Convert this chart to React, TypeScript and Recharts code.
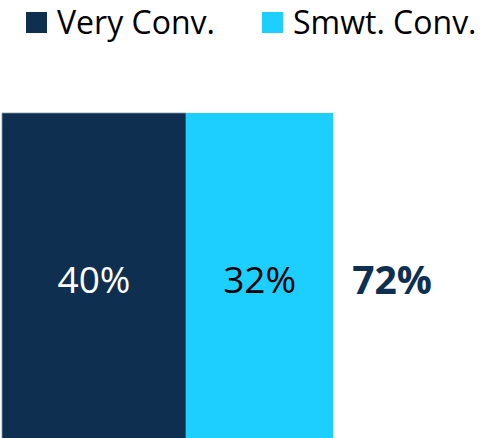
import { BarChart, Bar, XAxis, YAxis, LabelList } from 'recharts';

const categories = [''];
const veryConv = [40];
const smwtConv = [32];
const seriesNames = ['Very Conv.', 'Smwt. Conv.'];

const NAVY = '#0e2f4f';
const CYAN = '#1dcfff';
const COLORS = [NAVY, CYAN];
const FONT = '"Open Sans", "Liberation Sans", sans-serif';

const data = categories.map((name, i) => ({
  name,
  very: veryConv[i],
  smwt: smwtConv[i],
  total: veryConv[i] + smwtConv[i],
}));

// legend drawn in HTML so it does not push the plot area down
function TopLegend() {
  const lefts = [26, 262];
  return (
    <div style={{ position: 'absolute', top: 0, left: 0, width: 496, height: 42, fontFamily: FONT, fontSize: 32, color: '#000' }}>
      {seriesNames.map((n, i) => (
        <div key={n} style={{ position: 'absolute', left: lefts[i], top: 1, display: 'flex', alignItems: 'center', whiteSpace: 'nowrap', height: 42 }}>
          <span style={{ display: 'inline-block', width: 21, height: 21, background: COLORS[i], marginRight: 10 }} />
          <span style={{ lineHeight: '42px' }}>{n}</span>
        </div>
      ))}
    </div>
  );
}

export default function App() {
  return (
    <div style={{ width: 496, height: 438, overflow: 'hidden', position: 'relative' }}>
      <style>{'body{margin:0}'}</style>
      <BarChart
        width={496}
        height={480}
        data={data}
        layout="vertical"
        margin={{ top: 113, right: 34, left: 2, bottom: 33 }}
        barCategoryGap={0}
      >
        <XAxis type="number" domain={[0, 100]} hide />
        <YAxis type="category" dataKey="name" hide />
        <Bar dataKey="very" name={seriesNames[0]} stackId="s" fill={NAVY} stroke="#7f98ad" strokeWidth={0.8} isAnimationActive={false}>
          <LabelList dataKey="very" position="center" formatter={(v: any) => `${v}%`} fill="#ffffff" style={{ fontFamily: FONT, fontSize: 37 }} />
        </Bar>
        <Bar dataKey="smwt" name={seriesNames[1]} stackId="s" fill={CYAN} isAnimationActive={false}>
          <LabelList dataKey="smwt" position="center" formatter={(v: any) => `${v}%`} fill="#000000" style={{ fontFamily: FONT, fontSize: 37 }} />
          <LabelList dataKey="total" position="right" offset={19} formatter={(v: any) => `${v}%`} fill={NAVY} style={{ fontFamily: FONT, fontSize: 39, fontWeight: 700 }} />
        </Bar>
      </BarChart>
      <TopLegend />
    </div>
  );
}
